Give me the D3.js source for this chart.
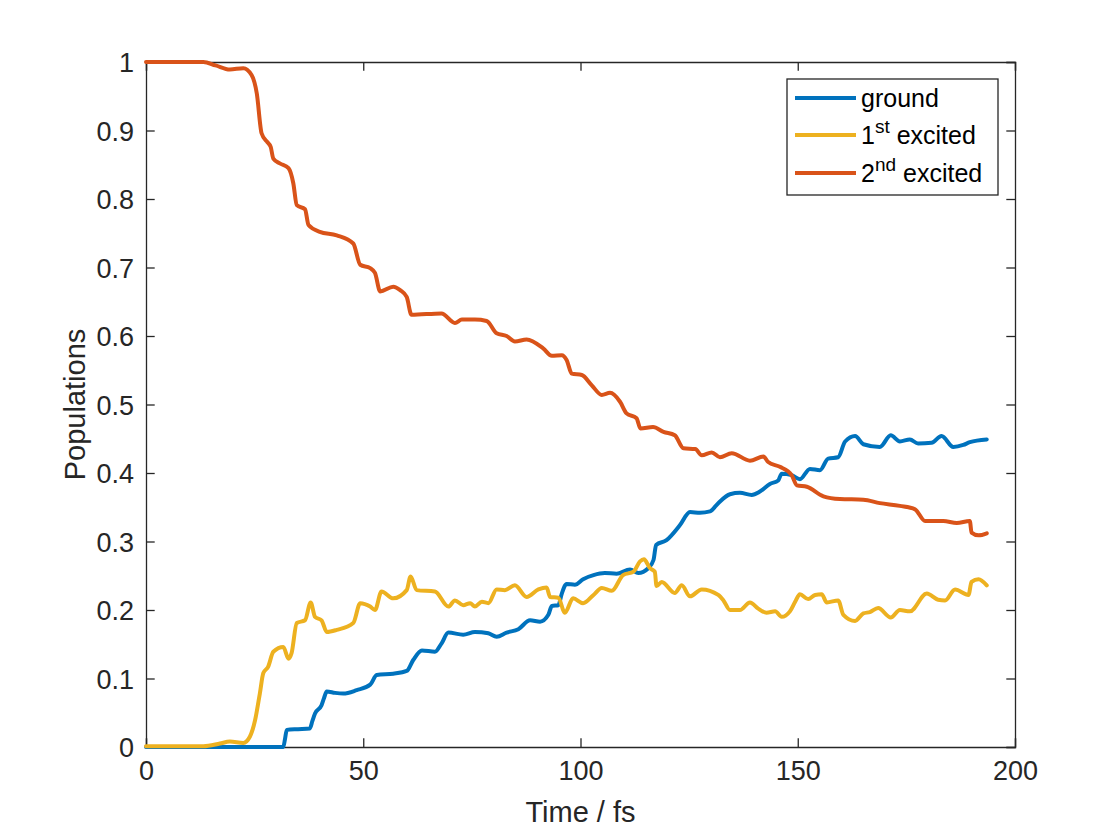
<!DOCTYPE html>
<html>
<head>
<meta charset="utf-8">
<script src="https://cdn.jsdelivr.net/npm/d3@7"></script>
<style>
  body { margin: 0; background: #fff; }
  svg { font-family: "Liberation Sans", Arial, Helvetica, sans-serif; }
</style>
</head>
<body>
<div id="chart"></div>
<script>
// populations: [time / fs, population]
var ground = [
  [0,0],[31.6,0],[32.0,0.012],[32.4,0.025],[35,0.026],[37.7,0.027],[38.3,0.038],[38.9,0.049],
  [40.4,0.061],[41.0,0.072],[41.6,0.081],[43.5,0.079],[45.4,0.078],[48.5,0.083],[51.6,0.091],
  [53.1,0.105],[56.9,0.107],[60.0,0.111],[61.5,0.127],[63.5,0.141],[66.5,0.139],[68.0,0.151],
  [69.6,0.167],[73.0,0.164],[75.7,0.168],[78.8,0.166],[80.7,0.161],[83.0,0.167],[85.7,0.172],
  [88.4,0.185],[90.7,0.183],[92.6,0.193],[93.4,0.206],[94.9,0.207],[95.7,0.224],[96.8,0.238],
  [98.7,0.237],[100.6,0.245],[103.0,0.251],[105.6,0.254],[108.3,0.253],[111.4,0.259],[113.3,0.254],
  [115.6,0.261],[116.8,0.273],[117.4,0.295],[119.8,0.302],[122.9,0.324],[125.2,0.343],[127.5,0.342],
  [129.8,0.344],[131.7,0.356],[134.4,0.369],[136.7,0.371],[139.4,0.368],[141.3,0.373],[143.6,0.384],
  [145.5,0.389],[146.3,0.399],[148.6,0.397],[150.5,0.391],[152.8,0.406],[155.1,0.404],[157.0,0.421],
  [159.3,0.423],[160.9,0.446],[163.2,0.454],[165.1,0.442],[168.9,0.438],[171.4,0.455],[173.5,0.446],
  [175.8,0.449],[177.7,0.443],[180.8,0.444],[183.1,0.454],[185.8,0.438],[188.1,0.441],[189.6,0.445],
  [193.5,0.449]
];

var first = [
  [0,0.001],[13.2,0.001],[17.0,0.005],[19.3,0.008],[22.4,0.006],[23.9,0.015],[25.1,0.039],
  [26.2,0.078],[27.0,0.108],[28.1,0.117],[29.3,0.139],[31.6,0.146],[32.8,0.129],[33.5,0.137],
  [34.7,0.181],[36.6,0.185],[37.9,0.211],[38.9,0.190],[40.4,0.185],[41.6,0.168],[43.9,0.171],
  [47.7,0.181],[49.3,0.210],[51.6,0.205],[52.7,0.200],[54.2,0.227],[56.9,0.217],[60.0,0.229],
  [60.9,0.249],[62.3,0.229],[66.5,0.227],[69.6,0.205],[71.1,0.214],[73.0,0.207],[74.6,0.210],
  [75.7,0.205],[77.3,0.212],[78.8,0.210],[80.7,0.230],[82.6,0.229],[84.9,0.236],[87.6,0.219],
  [90.3,0.230],[92.2,0.233],[93.0,0.219],[94.9,0.218],[96.4,0.196],[98.3,0.217],[100.6,0.210],
  [103.0,0.222],[104.9,0.232],[107.2,0.228],[109.8,0.251],[112.2,0.256],[113.7,0.271],[114.6,0.274],
  [116.0,0.261],[117.1,0.256],[117.5,0.235],[118.7,0.241],[121.7,0.225],[123.3,0.236],[125.2,0.220],
  [127.9,0.230],[131.7,0.222],[132.9,0.214],[134.4,0.200],[136.7,0.200],[139.0,0.211],[140.9,0.202],
  [142.8,0.196],[144.8,0.198],[146.3,0.190],[148.2,0.198],[149.4,0.212],[150.5,0.223],[152.4,0.216],
  [154.0,0.222],[155.5,0.223],[156.7,0.211],[159.3,0.214],[160.5,0.193],[163.2,0.184],[165.1,0.195],
  [166.6,0.197],[168.5,0.203],[171.4,0.189],[173.5,0.200],[175.8,0.198],[179.7,0.224],[182.3,0.215],
  [183.9,0.214],[186.2,0.230],[189.3,0.222],[190.0,0.241],[191.6,0.245],[193.5,0.236]
];

var second = [
  [0,1],[13.2,1],[16,0.995],[19.3,0.989],[22.4,0.991],[24.3,0.981],[25.5,0.954],[26.6,0.896],
  [27.8,0.884],[28.7,0.876],[29.3,0.859],[30.8,0.852],[32.8,0.845],[33.9,0.823],[34.7,0.791],
  [36.6,0.785],[37.4,0.762],[40.0,0.752],[43.9,0.747],[47.7,0.735],[49.3,0.704],[51.6,0.699],
  [52.7,0.692],[53.9,0.665],[56.9,0.672],[58.5,0.667],[60.0,0.657],[61.1,0.631],[68.0,0.633],
  [71.1,0.619],[72.7,0.624],[75.7,0.624],[78.4,0.622],[80.7,0.604],[83.0,0.600],[84.9,0.592],
  [87.6,0.595],[91.4,0.582],[93.4,0.571],[95.7,0.572],[96.8,0.565],[98.0,0.545],[100.3,0.543],
  [102.6,0.528],[104.9,0.514],[106.8,0.517],[109.1,0.504],[110.6,0.487],[112.9,0.480],[113.8,0.465],
  [116.7,0.467],[119.1,0.460],[121.7,0.455],[123.7,0.436],[126.4,0.435],[127.9,0.426],[130.2,0.430],
  [132.1,0.423],[134.8,0.429],[139.0,0.418],[142.1,0.424],[143.2,0.416],[145.9,0.409],[148.6,0.397],
  [149.8,0.382],[152.1,0.380],[155.9,0.366],[159.7,0.362],[165.1,0.361],[168.9,0.356],[173.5,0.352],
  [177.0,0.347],[179.3,0.330],[183.5,0.330],[186.6,0.327],[189.6,0.330],[190.0,0.313],[191.6,0.309],
  [193.5,0.312]
];

var xTicks = [0, 50, 100, 150, 200];
var yTicks = [0, 0.1, 0.2, 0.3, 0.4, 0.5, 0.6, 0.7, 0.8, 0.9, 1];

var series = [
  { name: "ground",  sup: null,  rest: "",         color: "#0072BD", data: ground },
  { name: "1",       sup: "st",  rest: " excited", color: "#EDB120", data: first },
  { name: "2",       sup: "nd",  rest: " excited", color: "#D95319", data: second }
];

var W = 1120, H = 840;
var plot = { left: 146, right: 1015, top: 62, bottom: 747 };
var axisColor = "#262626";
var tickLen = 8.7;

var svg = d3.select("#chart").append("svg")
  .attr("width", W)
  .attr("height", H);

var x = d3.scaleLinear().domain([0, 200]).range([plot.left, plot.right]);
var y = d3.scaleLinear().domain([0, 1]).range([plot.bottom, plot.top]);

// axes with inward ticks on all four sides
var xb = svg.append("g")
  .attr("transform", "translate(0," + plot.bottom + ")")
  .call(d3.axisBottom(x).tickValues(xTicks).tickSize(-tickLen).tickPadding(14).tickFormat(String));
var xt = svg.append("g")
  .attr("transform", "translate(0," + plot.top + ")")
  .call(d3.axisTop(x).tickValues(xTicks).tickSize(-tickLen).tickFormat(""));
var yl = svg.append("g")
  .attr("transform", "translate(" + plot.left + ",0)")
  .call(d3.axisLeft(y).tickValues(yTicks).tickSize(-tickLen).tickPadding(12).tickFormat(String));
var yr = svg.append("g")
  .attr("transform", "translate(" + plot.right + ",0)")
  .call(d3.axisRight(y).tickValues(yTicks).tickSize(-tickLen).tickFormat(""));

[xb, xt, yl, yr].forEach(function(g) {
  g.select(".domain").attr("stroke", axisColor).attr("stroke-width", 1.3);
  g.selectAll(".tick line").attr("stroke", axisColor).attr("stroke-width", 1.3);
  g.selectAll(".tick text")
    .attr("fill", axisColor)
    .style("font-size", "27px")
    .style("font-family", "'Liberation Sans', Arial, Helvetica, sans-serif");
});
xb.selectAll(".tick text").attr("dy", "0.71em");
yl.selectAll(".tick text").attr("dy", "0.36em");

// axis labels
svg.append("text")
  .attr("x", (plot.left + plot.right) / 2)
  .attr("y", 822)
  .attr("text-anchor", "middle")
  .attr("fill", axisColor)
  .style("font-size", "29px")
  .text("Time / fs");

svg.append("text")
  .attr("transform", "translate(85," + (plot.top + plot.bottom) / 2 + ") rotate(-90)")
  .attr("text-anchor", "middle")
  .attr("fill", axisColor)
  .style("font-size", "29px")
  .text("Populations");

// lines
var line = d3.line()
  .x(function(d) { return x(d[0]); })
  .y(function(d) { return y(d[1]); })
  .curve(d3.curveMonotoneX);

svg.append("g")
  .selectAll("path")
  .data(series)
  .enter().append("path")
  .attr("d", function(d) { return line(d.data); })
  .attr("fill", "none")
  .attr("stroke", function(d) { return d.color; })
  .attr("stroke-width", 4)
  .attr("stroke-linejoin", "round")
  .attr("stroke-linecap", "round");

// legend
var legend = { x: 787, y: 79, w: 211, h: 116, rowY: [98, 135, 173] };

svg.append("rect")
  .attr("x", legend.x)
  .attr("y", legend.y)
  .attr("width", legend.w)
  .attr("height", legend.h)
  .attr("fill", "#fff")
  .attr("stroke", axisColor)
  .attr("stroke-width", 1.3);

var rows = svg.append("g")
  .selectAll("g")
  .data(series)
  .enter().append("g")
  .attr("transform", function(d, i) { return "translate(0," + legend.rowY[i] + ")"; });

rows.append("line")
  .attr("x1", 795)
  .attr("x2", 856)
  .attr("stroke", function(d) { return d.color; })
  .attr("stroke-width", 4);

var label = rows.append("text")
  .attr("x", 861)
  .attr("dy", "0.36em")
  .attr("fill", "#000")
  .style("font-size", "25px");

label.append("tspan").text(function(d) { return d.name; });
label.filter(function(d) { return d.sup; }).append("tspan")
  .attr("dy", -11)
  .style("font-size", "19px")
  .text(function(d) { return d.sup; });
label.filter(function(d) { return d.sup; }).append("tspan")
  .attr("dy", 11)
  .text(function(d) { return d.rest; });
</script>
</body>
</html>
